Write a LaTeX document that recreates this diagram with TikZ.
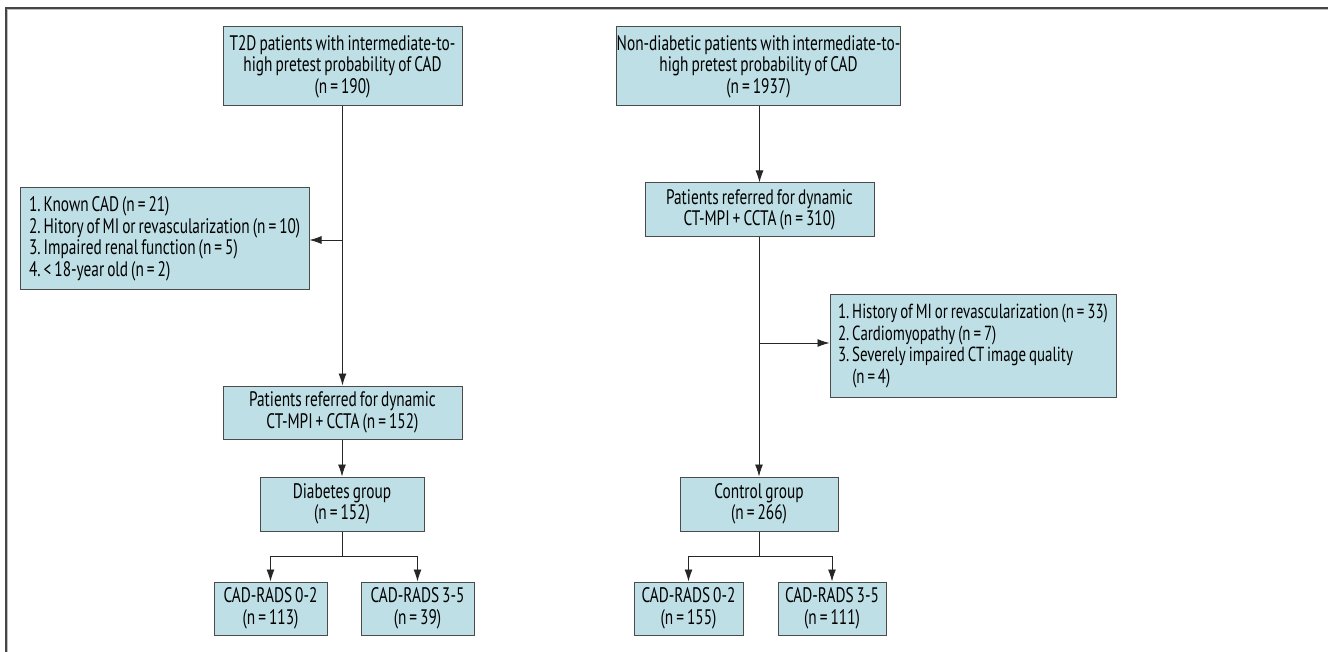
\documentclass[tikz,border=0pt]{standalone}
\usepackage{fontspec}
\setmainfont{PT Sans}[FakeStretch=0.73, WordSpace=0.74]
\usetikzlibrary{arrows.meta}
\definecolor{boxfill}{RGB}{190,223,229}
\definecolor{boxline}{RGB}{75,75,75}
\definecolor{frameline}{RGB}{70,70,70}
\tikzset{
  box/.style={draw=boxline, fill=boxfill, line width=1pt, inner sep=0pt,
    align=center, font=\frenchspacing\fontsize{21}{21.5}\selectfont, anchor=center},
  leftbox/.style={box, align=flush left},
  conn/.style={draw=black!85, line width=0.9pt},
  arr/.style={conn, -{Latex[length=12pt,width=8pt]}}
}
\begin{document}
\begin{tikzpicture}[x=1pt,y=-1pt]
\useasboundingbox (0,0) rectangle (1328,652);
\draw[frameline, line width=1.5pt] (6,652) -- (6,8) -- (1328,8);
\draw[black!25, line width=0.8pt] (7.5,652) -- (7.5,9.5) -- (1328,9.5);

\node[box, minimum width=239pt, minimum height=79pt] (t2d) at (342.5,66.5)
  {T2D patients with intermediate-to-\\high pretest probability of CAD\\(n = 190)};
\node[box, minimum width=279pt, minimum height=79pt] (nond) at (758.5,66.5)
  {Non-diabetic patients with intermediate-to-\\high pretest probability of CAD\\(n = 1937)};
\node[leftbox, minimum width=289pt, minimum height=102pt, text width=271pt] (exL) at (164.5,239)
  {\mbox{1. Known CAD (n = 21)}\\\mbox{2. Hitory of MI or revascularization (n = 10)}\\\mbox{3. Impaired renal function (n = 5)}\\\mbox{4. < 18-year old (n = 2)}};
\node[box, minimum width=229pt, minimum height=54pt] (refR) at (759.5,210)
  {Patients referred for dynamic\\CT-MPI + CCTA (n = 310)};
\node[leftbox, minimum width=286pt, minimum height=102pt, text width=270pt,
  font=\frenchspacing\fontsize{20.4}{21.5}\selectfont] (exR) at (973,346)
  {\mbox{1. History of MI or revascularization (n = 33)}\\\mbox{2. Cardiomyopathy (n = 7)}\\\mbox{3. Severely impaired CT image quality}\\\mbox{\phantom{3. }(n = 4)}};
\node[box, minimum width=239pt, minimum height=53pt] (refL) at (342.5,412.5)
  {Patients referred for dynamic\\CT-MPI + CCTA (n = 152)};
\node[box, minimum width=164pt, minimum height=54pt] (diab) at (342,504)
  {Diabetes group\\(n = 152)};
\node[box, minimum width=158pt, minimum height=54pt] (ctrl) at (759,504)
  {Control group\\(n = 266)};
\node[box, minimum width=113pt, minimum height=53pt] (c1) at (270.5,608.5)
  {CAD-RADS 0-2\\(n = 113)};
\node[box, minimum width=113pt, minimum height=53pt] (c2) at (417.5,608.5)
  {CAD-RADS 3-5\\(n = 39)};
\node[box, minimum width=109pt, minimum height=53pt] (c3) at (688.5,608.5)
  {CAD-RADS 0-2\\(n = 155)};
\node[box, minimum width=108pt, minimum height=53pt] (c4) at (832,608.5)
  {CAD-RADS 3-5\\(n = 111)};

\coordinate (bL) at (342.5,240);
\coordinate (bR) at (759,343);
\coordinate (sD) at (342,556);
\coordinate (sC) at (759,556);

\draw[arr] (t2d.south) -- (refL.north);
\draw[arr] (bL) -- (bL -| exL.east);
\draw[arr] (nond.south -| refR.north) -- (refR.north);
\draw[arr] (refR.south -| ctrl.north) -- (ctrl.north);
\draw[arr] (bR) -- (bR -| exR.west);
\draw[arr] (refL.south -| diab.north) -- (diab.north);
\draw[conn] (diab.south) -- (sD);
\draw[arr] (sD) -| (c1.north);
\draw[arr] (sD) -| (c2.north);
\draw[conn] (ctrl.south) -- (sC);
\draw[arr] (sC) -| (c3.north);
\draw[arr] (sC) -| (c4.north);
\end{tikzpicture}
\end{document}
